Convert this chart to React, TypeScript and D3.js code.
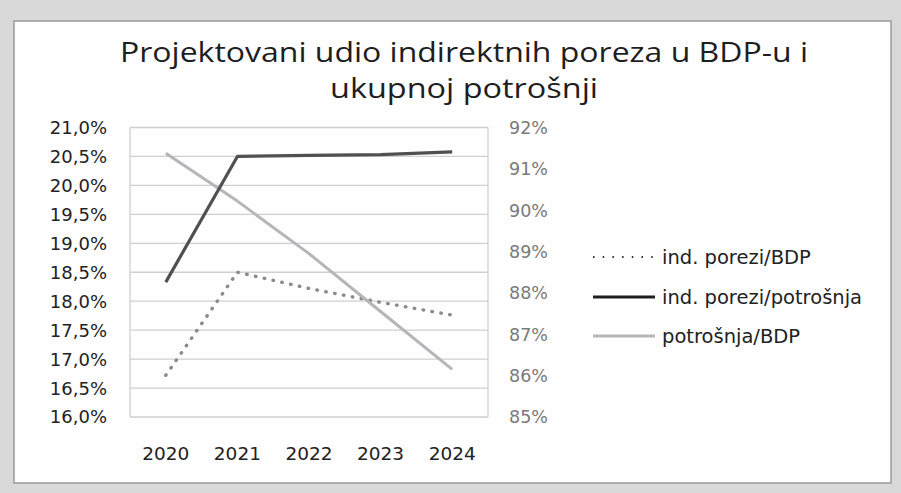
import React from "react";
import * as d3 from "d3";

const years = ["2020", "2021", "2022", "2023", "2024"];
const porezBDP = [16.72, 18.5, 18.22, 17.98, 17.76];
const porezPotrosnja = [18.33, 20.5, 20.52, 20.53, 20.58];
const potrosnjaBDP = [91.38, 90.22, 88.95, 87.55, 86.15];
const leftTicks = [16, 16.5, 17, 17.5, 18, 18.5, 19, 19.5, 20, 20.5, 21];
const rightTicks = [85, 86, 87, 88, 89, 90, 91, 92];
const titleLines = ["Projektovani udio indirektnih poreza u BDP-u i", "ukupnoj potrošnji"];
const legendLabels = ["ind. porezi/BDP", "ind. porezi/potrošnja", "potrošnja/BDP"];

const W = 901;
const H = 493;

export default function App() {
  const plot = { left: 130, right: 488, top: 127.5, bottom: 417 };
  const x = d3.scaleBand<string>().domain(years).range([plot.left, plot.right]);
  const cx = (y: string) => (x(y) as number) + x.bandwidth() / 2;
  const yL = d3.scaleLinear().domain([16, 21]).range([plot.bottom, plot.top]);
  const yR = d3.scaleLinear().domain([85, 92]).range([plot.bottom, plot.top]);

  const lineL = d3.line<number>().x((_, i) => cx(years[i])).y((d) => yL(d));
  const lineR = d3.line<number>().x((_, i) => cx(years[i])).y((d) => yR(d));

  const fmtL = (v: number) => v.toFixed(1).replace(".", ",") + "%";
  const fmtR = (v: number) => v.toFixed(0) + "%";

  const font = "'DejaVu Sans', Verdana, sans-serif";
  const titleFont = "'Open Sans', 'Noto Sans', sans-serif";

  const legendY = [257, 297, 336];
  const styles = [
    { stroke: "#8a8a8a", width: 3.4, dash: "0.5 8.5", cap: "round" as const },
    { stroke: "#505050", width: 3.2, dash: undefined, cap: "butt" as const },
    { stroke: "#b6b6ba", width: 3, dash: undefined, cap: "butt" as const },
  ];
  const series = [
    { d: lineL(porezBDP), s: styles[0] },
    { d: lineR(potrosnjaBDP), s: styles[2] },
    { d: lineL(porezPotrosnja), s: styles[1] },
  ];
  const titleWidths = [688, 268];

  return (
    <svg
      width={W}
      height={H}
      style={{ position: "fixed", left: 0, top: 0, background: "#dcdcdc" }}
    >
      <rect x={0} y={0} width={W} height={H} fill="#d9d9d9" />
      <rect x={14} y={21} width={877} height={462} fill="#fefefe" stroke="#9a9a9a" strokeWidth={1.5} />
      {titleLines.map((t, i) => (
        <text
          key={i}
          x={464}
          y={62 + i * 36}
          textAnchor="middle"
          fontFamily={titleFont}
          fontSize={27}
          fill="#1e1e1e"
          textLength={titleWidths[i]}
          lengthAdjust="spacingAndGlyphs"
        >
          {t}
        </text>
      ))}
      {leftTicks.map((v) => (
        <line
          key={v}
          x1={plot.left}
          x2={plot.right}
          y1={yL(v)}
          y2={yL(v)}
          stroke="#cfcfcf"
          strokeWidth={1.3}
        />
      ))}
      <line x1={plot.left} x2={plot.left} y1={plot.top} y2={plot.bottom} stroke="#cfcfcf" strokeWidth={1.3} />
      <line x1={plot.right} x2={plot.right} y1={plot.top} y2={plot.bottom} stroke="#cfcfcf" strokeWidth={1.3} />
      {leftTicks.map((v) => (
        <text key={v} x={107} y={yL(v)} dy="0.36em" textAnchor="end" fontFamily={font} fontSize={18} fill="#222">
          {fmtL(v)}
        </text>
      ))}
      {rightTicks.map((v) => (
        <text key={v} x={509} y={yR(v)} dy="0.36em" textAnchor="start" fontFamily={font} fontSize={17.5} fill="#7a7a7a">
          {fmtR(v)}
        </text>
      ))}
      {years.map((yv) => (
        <text key={yv} x={cx(yv)} y={453} dy="0.36em" textAnchor="middle" fontFamily={font} fontSize={18.5} fill="#222">
          {yv}
        </text>
      ))}
      {series.map((sr, i) => (
        <path
          key={i}
          d={sr.d || ""}
          fill="none"
          stroke={sr.s.stroke}
          strokeWidth={sr.s.width}
          strokeDasharray={sr.s.dash}
          strokeLinecap={sr.s.cap}
          strokeLinejoin="round"
        />
      ))}
      {legendLabels.map((l, i) => (
        <g key={l}>
          <line
            x1={593}
            x2={655}
            y1={legendY[i]}
            y2={legendY[i]}
            stroke={i === 0 ? "#333" : i === 1 ? "#1e1e1e" : styles[i].stroke}
            strokeWidth={i === 0 ? 2 : styles[i].width}
            strokeDasharray={i === 0 ? "1.5 8.2" : undefined}
          />
          <text x={662} y={legendY[i]} dy="0.36em" fontFamily={font} fontSize={19.5} fill="#222">
            {l}
          </text>
        </g>
      ))}
    </svg>
  );
}
